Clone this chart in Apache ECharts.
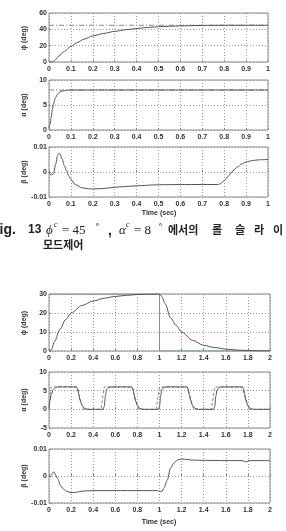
<!DOCTYPE html>
<html>
<head>
<meta charset="utf-8">
<script src="https://cdn.jsdelivr.net/npm/echarts@6/dist/echarts.min.js"></script>
<style>
  html, body { margin: 0; padding: 0; background: #fff; }
  #chart { width: 286px; height: 531px; }
</style>
</head>
<body>
<div id="chart"></div>
<script>
// ---- Fig. 13 (top group, 0..1 s) ----
const phiTopT = [0, 0.01, 0.02, 0.03, 0.05, 0.07, 0.1, 0.13, 0.16, 0.2, 0.25, 0.3, 0.35, 0.4, 0.45, 0.5, 0.6, 0.7, 0.8, 0.9, 1.0]
const phiTop = [0, 0, 1, 3, 8.5, 13, 19, 24, 28, 32, 35, 37.5, 39.5, 41, 42.3, 43.2, 44.2, 44.8, 45, 45, 45]
const phiTopCmdT = [0, 1]
const phiTopCmd = [45, 45]

const alphaTopT = [0, 0.005, 0.01, 0.015, 0.02, 0.03, 0.04, 0.05, 0.06, 0.08, 0.1, 0.15, 0.2, 0.5, 1.0]
const alphaTop = [0.4, 1.2, 2.5, 4, 5.2, 6.5, 7.2, 7.6, 7.8, 7.95, 8, 8, 8, 8, 8]
const alphaTopCmdT = [0, 1]
const alphaTopCmd = [8, 8]

const betaTopT = [0, 0.01, 0.02, 0.03, 0.04, 0.045, 0.05, 0.06, 0.07, 0.08, 0.09, 0.1, 0.12, 0.15, 0.18, 0.2, 0.25, 0.3, 0.35, 0.4, 0.5, 0.6, 0.7, 0.77, 0.78, 0.8, 0.82, 0.84, 0.86, 0.88, 0.9, 0.93, 0.96, 1.0]
const betaTop = [0, -0.0012, -0.0008, 0.003, 0.0068, 0.0075, 0.0072, 0.0052, 0.0025, 0.0005, -0.0015, -0.003, -0.005, -0.0063, -0.0067, -0.0068, -0.0066, -0.0061, -0.0058, -0.0055, -0.0051, -0.005, -0.005, -0.005, -0.0048, -0.0035, -0.0015, 0.0005, 0.002, 0.0032, 0.004, 0.0046, 0.0049, 0.005]

// ---- bottom group, 0..2 s ----
const phiBotT = [0, 0.02, 0.05, 0.1, 0.15, 0.2, 0.3, 0.4, 0.5, 0.6, 0.7, 0.8, 0.9, 1.0, 1.02, 1.05, 1.1, 1.15, 1.2, 1.3, 1.4, 1.5, 1.6, 1.7, 1.8, 1.9, 2.0]
const phiBot = [0, 0.5, 5, 11.5, 16.5, 20, 24, 26.3, 27.8, 28.7, 29.3, 29.7, 29.9, 30, 28.8, 25, 17.5, 13.5, 10, 5.6, 3, 1.8, 1, 0.5, 0.3, 0.1, 0]
const phiBotCmdT = [0, 1, 1, 2]
const phiBotCmd = [30, 30, 0, 0]

const alphaBotT = [0, 0.01, 0.02, 0.04, 0.06, 0.08, 0.25, 0.26, 0.27, 0.28, 0.3, 0.32, 0.35,
  0.49, 0.5, 0.51, 0.52, 0.54, 0.56, 0.75, 0.76, 0.77, 0.78, 0.8, 0.82, 0.85,
  0.99, 1.0, 1.01, 1.02, 1.04, 1.06, 1.25, 1.26, 1.27, 1.28, 1.3, 1.32, 1.35,
  1.49, 1.5, 1.51, 1.52, 1.54, 1.56, 1.75, 1.76, 1.77, 1.78, 1.8, 1.82, 1.85, 2.0]
const alphaBot = [0.5, 2.5, 4, 5.3, 5.8, 6, 6, 5.5, 4, 2.5, 1, 0.3, 0,
  0, 0.8, 3.5, 5.2, 5.9, 6, 6, 5.5, 4, 2.5, 1, 0.3, 0,
  0, 0.8, 3.5, 5.2, 5.9, 6, 6, 5.5, 4, 2.5, 1, 0.3, 0,
  0, 0.8, 3.5, 5.2, 5.9, 6, 6, 5.5, 4, 2.5, 1, 0.3, 0, 0]
const alphaBotCmdT = [0, 0.02, 0.25, 0.31, 0.47, 0.5, 0.75, 0.81, 0.97, 1.0, 1.25, 1.31, 1.47, 1.5, 1.75, 1.81, 2.0]
const alphaBotCmd = [0, 6, 6, 0, 0, 6, 6, 0, 0, 6, 6, 0, 0, 6, 6, 0, 0]

const betaBotT = [0, 0.01, 0.02, 0.03, 0.04, 0.05, 0.06, 0.08, 0.1, 0.13, 0.16, 0.2, 0.25, 0.3, 0.4, 0.6, 0.8, 0.98, 1.0, 1.02, 1.04, 1.07, 1.1, 1.13, 1.16, 1.2, 1.25, 1.3, 1.4, 1.6, 1.75, 1.78, 1.81, 1.9, 2.0]
const betaBot = [0, -0.0004, 0.0002, 0.001, 0.0015, 0.0012, 0.0003, -0.001, -0.0033, -0.0048, -0.0057, -0.0062, -0.006, -0.0056, -0.0054, -0.0054, -0.0054, -0.0054, -0.0056, -0.0058, -0.0045, -0.0015, 0.0029, 0.0048, 0.0059, 0.0063, 0.0061, 0.0059, 0.0058, 0.0057, 0.0057, 0.0052, 0.0057, 0.0057, 0.0057]

const zip = (ts, vs) => ts.map((t, i) => [t, vs[i]])

const chart = echarts.init(document.getElementById('chart'))

const grids = [
  { left: 49, top: 13, width: 219, height: 49 },
  { left: 49, top: 80, width: 219, height: 50 },
  { left: 49, top: 147, width: 219, height: 50 },
  { left: 49, top: 294, width: 221, height: 57 },
  { left: 49, top: 372, width: 221, height: 56 },
  { left: 49, top: 449, width: 221, height: 54 }
].map(g => Object.assign({ show: true, borderColor: '#8a8a8a', borderWidth: 1, backgroundColor: '#fff' }, g))

const tickFont = { fontSize: 7, color: '#333', fontWeight: 'bold', fontFamily: 'Liberation Sans, Arial, sans-serif' }
const dotted = { show: true, lineStyle: { color: '#9a9a9a', type: [1, 2], width: 1 } }

const xAxes = [0, 1, 2, 3, 4, 5].map(i => ({
  type: 'value',
  gridIndex: i,
  min: 0,
  max: i < 3 ? 1 : 2,
  interval: i < 3 ? 0.1 : 0.2,
  axisLine: { show: false },
  axisTick: { show: true, inside: true, length: 2, lineStyle: { color: '#8a8a8a' } },
  axisLabel: Object.assign({ margin: 4, showMinLabel: true, showMaxLabel: true }, tickFont),
  splitLine: dotted
}))

const yRanges = [[0, 60, 20], [0, 10, 5], [-0.01, 0.01, 0.01], [0, 30, 10], [-5, 10, 5], [-0.01, 0.01, 0.01]]
const yAxes = yRanges.map((r, i) => ({
  type: 'value',
  gridIndex: i,
  min: r[0],
  max: r[1],
  interval: r[2],
  axisLine: { show: false },
  axisTick: { show: true, inside: true, length: 2, lineStyle: { color: '#8a8a8a' } },
  axisLabel: Object.assign({ margin: 2 }, tickFont),
  splitLine: dotted
}))

const resp = (i, data) => ({
  type: 'line', xAxisIndex: i, yAxisIndex: i, data,
  showSymbol: false, smooth: 0.3, smoothMonotone: 'x', silent: true,
  lineStyle: { color: '#555', width: 1 }, z: 3
})
const cmd = (i, data, type) => ({
  type: 'line', xAxisIndex: i, yAxisIndex: i, data,
  showSymbol: false, silent: true,
  lineStyle: { color: '#6f9f6f', width: 1, type: type }, z: 2
})

const yName = (text, x, y) => ({
  type: 'text', x, y, rotation: Math.PI / 2,
  style: { text, fill: '#333', font: 'bold 7px "Liberation Sans", Arial, sans-serif', textAlign: 'center', textVerticalAlign: 'middle' }
})
const txt = (text, x, y, font, fill) => ({
  type: 'text', x, y,
  style: { text, fill: fill || '#222', font, textAlign: 'left', textVerticalAlign: 'middle' }
})
const capFont = 'bold 14px "Liberation Sans", Arial, sans-serif'
const numCapFont = 'bold 12px "Liberation Sans", Arial, sans-serif'
const krFont = 'bold 11px "Noto Sans CJK KR", sans-serif'
const mathFont = 'italic 13px "Liberation Serif", "DejaVu Serif", serif'
const numFont = '13px "Liberation Serif", "DejaVu Serif", serif'
const supFont = 'italic 8px "Liberation Serif", serif'
const degFont = '8px "DejaVu Sans", sans-serif'

chart.setOption({
  animation: false,
  backgroundColor: '#fff',
  grid: grids,
  xAxis: xAxes,
  yAxis: yAxes,
  series: [
    cmd(0, zip(phiTopCmdT, phiTopCmd), [5, 2, 1, 2]),
    resp(0, zip(phiTopT, phiTop)),
    cmd(1, zip(alphaTopCmdT, alphaTopCmd), [5, 2, 1, 2]),
    resp(1, zip(alphaTopT, alphaTop)),
    resp(2, zip(betaTopT, betaTop)),
    cmd(3, zip(phiBotCmdT, phiBotCmd), 'solid'),
    resp(3, zip(phiBotT, phiBot)),
    cmd(4, zip(alphaBotCmdT, alphaBotCmd), [3, 2]),
    resp(4, zip(alphaBotT, alphaBot)),
    resp(5, zip(betaBotT, betaBot))
  ],
  graphic: [
    yName('ϕ (deg)', 24, 38),
    yName('α (deg)', 24, 105),
    yName('β (deg)', 24, 172),
    yName('ϕ (deg)', 24, 323),
    yName('α (deg)', 24, 400),
    yName('β (deg)', 24, 476),
    { type: 'text', x: 159, y: 213, style: { text: 'Time (sec)', fill: '#333', font: 'bold 7px "Liberation Sans", Arial, sans-serif', textAlign: 'center', textVerticalAlign: 'middle' } },
    { type: 'text', x: 159, y: 522, style: { text: 'Time (sec)', fill: '#333', font: 'bold 7px "Liberation Sans", Arial, sans-serif', textAlign: 'center', textVerticalAlign: 'middle' } },
    // caption
    txt('Fig.', -9, 230, capFont),
    txt('13', 28, 230, numCapFont),
    txt('ϕ', 46, 231, mathFont),
    txt('c', 54, 225, supFont),
    txt('= 45', 62, 231, numFont),
    txt('∘', 95, 225, degFont),
    txt(',', 108, 231, capFont),
    txt('α', 119, 231, mathFont),
    txt('c', 126, 225, supFont),
    txt('= 8', 134, 231, numFont),
    txt('∘', 158, 225, degFont),
    txt('에서의', 168, 230, krFont),
    txt('롤', 212, 230, krFont),
    txt('슬', 235, 230, krFont),
    txt('라', 254, 230, krFont),
    txt('이', 273, 230, krFont),
    txt('딩', 291, 230, krFont),
    txt('모드제어', 43, 245, krFont)
  ]
})
</script>
</body>
</html>
